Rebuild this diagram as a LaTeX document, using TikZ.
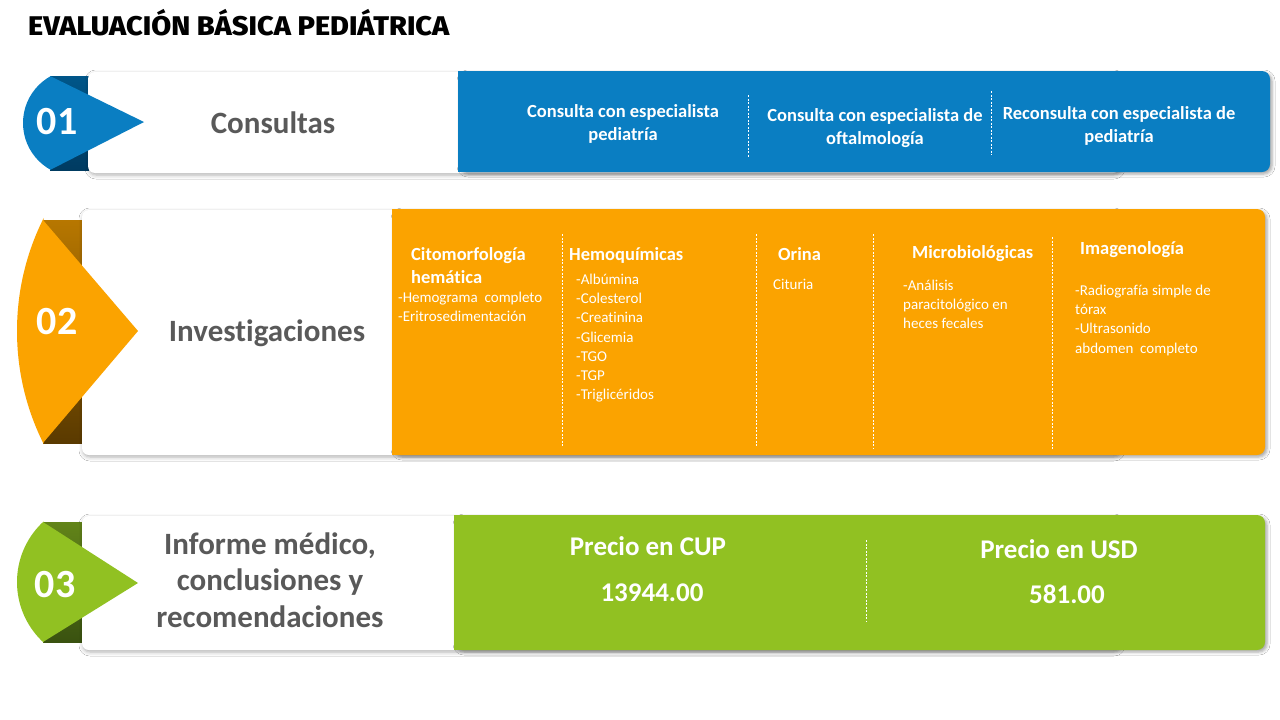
\documentclass[tikz,border=0pt]{standalone}
\usepackage{fontspec}
\setmainfont{Carlito}[Ligatures=NoCommon]
\newfontfamily\titlefont{Fira Sans ExtraBold}
\usetikzlibrary{shadows.blur}
\definecolor{cblue}{HTML}{0A7EC2}
\definecolor{cblueD}{HTML}{005689}
\definecolor{cblueDD}{HTML}{003B61}
\definecolor{corange}{HTML}{FBA300}
\definecolor{corangeD}{HTML}{B77700}
\definecolor{corangeDD}{HTML}{5A3A00}
\definecolor{cgreen}{HTML}{91C122}
\definecolor{cgreenD}{HTML}{628419}
\definecolor{cgreenDD}{HTML}{3A5210}
\definecolor{cgray}{HTML}{595959}
\tikzset{
  card/.style={fill=white, rounded corners=7, blur shadow={shadow xshift=1pt, shadow yshift=-2pt, shadow blur radius=4pt, shadow opacity=32}},
  panel/.style={rounded corners=8, blur shadow={shadow xshift=2pt, shadow yshift=-2pt, shadow blur radius=3pt, shadow opacity=35}},
  num/.style={text=white, font=\bfseries\fontsize{40}{44}\selectfont, inner sep=0},
  lbl/.style={text=cgray, font=\bfseries\fontsize{31}{36.5}\selectfont, align=center, inner sep=0},
  ptxt/.style={text=white, font=\bfseries\fontsize{18.5}{23}\selectfont, align=center, inner sep=0},
  hd/.style={text=white, font=\bfseries\fontsize{18.5}{23}\selectfont, anchor=west, inner sep=0, text height=13pt, text depth=4pt, yshift=-2pt},
  bd/.style={text=white, font=\fontsize{15}{19}\selectfont, anchor=west, inner sep=0, text height=10.5pt, text depth=3.5pt, yshift=-2pt},
  price/.style={text=white, font=\bfseries\fontsize{27}{30}\selectfont, inner sep=0},
  sep/.style={white, line width=0.8pt, dash pattern=on 2pt off 1.5pt}
}
\begin{document}
\begin{tikzpicture}[x=1pt,y=-1pt]
\useasboundingbox (0,0) rectangle (1280,720);
\fill[white] (0,0) rectangle (1280,720);

% title
\node[anchor=base west, inner sep=0, font=\titlefont\fontsize{27}{30}\selectfont] (title) at (28,35) {\scalebox{1.07}[1]{EVALUACIÓN BÁSICA PEDIÁTRICA}};

% ================= Row 1 =================
\shade[top color=cblueD, bottom color=cblueDD] (50,76) rectangle (89,170);
\path[card] (88,72) rectangle (1120,173);
\path[panel, fill=cblue] (458,71) rectangle (1270,172);
\fill[cblue] (458,71) rectangle (475,172);
\begin{scope}
  \clip (0,60) rectangle (50.5,190);
  \fill[cblue] (76.5,123) circle[radius=53.5];
\end{scope}
\fill[cblue] (50,76) -- (144,122) -- (50,170) -- cycle;
\node[num] (n1) at (57,122) {01};
\node[lbl] (l1) at (273,123) {Consultas};
\node[ptxt] (c1) at (623,124) {Consulta con especialista\\pediatría};
\node[ptxt] (c2) at (875,128) {Consulta con especialista de\\oftalmología};
\node[ptxt] (c3) at (1119,126) {Reconsulta con especialista de\\pediatría};
\coordinate (s1a) at (748,95); \coordinate (s1b) at (748,157);
\coordinate (s2a) at (991,91); \coordinate (s2b) at (991,155);
\draw[sep] (s1a) -- (s1b);
\draw[sep] (s2a) -- (s2b);

% ================= Row 2 =================
\shade[top color=corangeD, bottom color=corangeDD] (43,220) rectangle (83,443);
\path[card] (82,210) rectangle (1120,455);
\path[panel, fill=corange] (392,209) rectangle (1265,455);
\fill[corange] (392,209) rectangle (410,455);
\begin{scope}
  \clip (0,200) rectangle (43.5,460);
  \fill[corange] (269,331) circle[radius=252];
\end{scope}
\fill[corange] (43,220) -- (138,331) -- (43,443) -- cycle;
\node[num] (n2) at (57,322) {02};
\node[lbl] (l2) at (267,333) {Investigaciones};

\node[hd] (h1a) at (411,254) {Citomorfología};
\node[hd] (h1b) at (411,277) {hemática};
\node[bd] (b1a) at (398,297) {-Hemograma\ \ completo};
\node[bd] (b1b) at (398,316) {-Eritrosedimentación};

\node[hd] (h2) at (569,254) {Hemoquímicas};
\node[bd] (b2a) at (576,279) {-Albúmina};
\node[bd] (b2b) at (576,298) {-Colesterol};
\node[bd] (b2c) at (576,317) {-Creatinina};
\node[bd] (b2d) at (576,337) {-Glicemia};
\node[bd] (b2e) at (576,356) {-TGO};
\node[bd] (b2f) at (576,375) {-TGP};
\node[bd] (b2g) at (576,394) {-Triglicéridos};

\node[hd] (h3) at (778,254) {Orina};
\node[bd] (b3a) at (773,284) {Cituria};

\node[hd] (h4) at (912,252) {Microbiológicas};
\node[bd] (b4a) at (903,285) {-Análisis};
\node[bd] (b4b) at (903,304) {paracitológico en};
\node[bd] (b4c) at (903,323) {heces fecales};

\node[hd] (h5) at (1080,248) {Imagenología};
\node[bd] (b5a) at (1075,290) {-Radiografía simple de};
\node[bd] (b5b) at (1075,309) {tórax};
\node[bd] (b5c) at (1075,328) {-Ultrasonido};
\node[bd] (b5d) at (1075,348) {abdomen\ \ completo};

\coordinate (o1a) at (562,234); \coordinate (o1b) at (562,447);
\coordinate (o2a) at (756,234); \coordinate (o2b) at (756,447);
\coordinate (o3a) at (873,234); \coordinate (o3b) at (873,449);
\coordinate (o4a) at (1052,237); \coordinate (o4b) at (1052,450);
\draw[sep] (o1a) -- (o1b);
\draw[sep] (o2a) -- (o2b);
\draw[sep] (o3a) -- (o3b);
\draw[sep] (o4a) -- (o4b);

% ================= Row 3 =================
\shade[top color=cgreenD, bottom color=cgreenDD] (43,522) rectangle (83,642);
\path[card] (82,516) rectangle (1120,650);
\path[panel, fill=cgreen] (454,515) rectangle (1265,650);
\fill[cgreen] (454,515) rectangle (472,650);
\begin{scope}
  \clip (0,505) rectangle (43.5,660);
  \fill[cgreen] (99.2,582) circle[radius=82.2];
\end{scope}
\fill[cgreen] (43,522) -- (138,583) -- (43,642) -- cycle;
\node[num] (n3) at (55,585) {03};
\node[lbl] (l3) at (270,580) {Informe médico,\\conclusiones y\\recomendaciones};

\node[price] (p1) at (648,546) {Precio en CUP};
\node[price] (v1) at (652,593) {13944.00};
\node[price] (p2) at (1059,549) {Precio en USD};
\node[price] (v2) at (1067,594) {581.00};
\coordinate (g1a) at (866,540); \coordinate (g1b) at (866,622);
\draw[sep] (g1a) -- (g1b);
\end{tikzpicture}
\end{document}
